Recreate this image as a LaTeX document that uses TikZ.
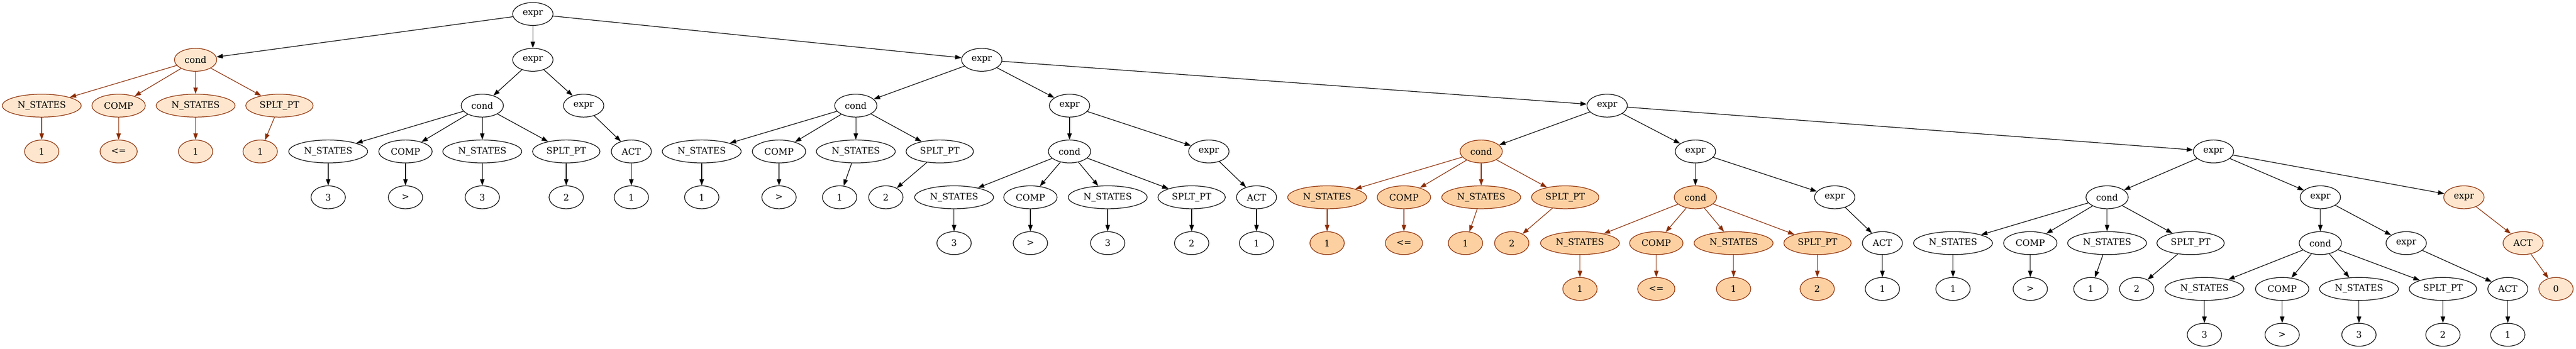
\documentclass[tikz,border=0pt]{standalone}
\usepackage{fontspec}
\setmainfont{DejaVu Serif}
\usetikzlibrary{shapes.geometric,arrows.meta}
\definecolor{oLight}{HTML}{FEE6CE}
\definecolor{oDark}{HTML}{FDD0A2}
\definecolor{oBord}{HTML}{8C2D04}
\tikzset{
  nd/.style={ellipse, draw=black, line width=1pt, minimum height=36pt, inner sep=0pt,
             font=\fontsize{14}{16}\selectfont},
  wexpr/.style={nd, minimum width=63.5pt},
  wcond/.style={nd, minimum width=66.5pt},
  wact/.style={nd, minimum width=63pt},
  wcomp/.style={nd, minimum width=84pt},
  wsplt/.style={nd, minimum width=106pt},
  wnst/.style={nd, minimum width=124pt},
  wleaf/.style={nd, minimum width=54pt},
  wle/.style={nd, minimum width=58.5pt},
  lightO/.style={fill=oLight, draw=oBord},
  darkO/.style={fill=oDark, draw=oBord},
  ed/.style={-{Triangle[length=10pt,width=7pt]}, line width=1pt, color=black},
  eo/.style={-{Triangle[length=10pt,width=7pt]}, line width=1pt, color=oBord}
}
\begin{document}
\begin{tikzpicture}[x=1pt,y=1pt]
\useasboundingbox (0,0) rectangle (4050,-548.25);
% rank 0
\node[wexpr] (R) at (837.75,-22) {expr};
% ---- rank 1
\node[wcond,lightO] (C1) at (307.5,-94) {cond};
\node[wexpr] (E1) at (837.75,-94) {expr};
\node[wexpr] (E2) at (1543.5,-94) {expr};
% ---- C1 group (light orange)
\node[wnst,lightO]  (C1a) at (65.6,-166) {N\_STATES};
\node[wcomp,lightO] (C1b) at (186.5,-166) {COMP};
\node[wnst,lightO]  (C1c) at (307.5,-166) {N\_STATES};
\node[wsplt,lightO] (C1d) at (439.3,-166) {SPLT\_PT};
\node[wleaf,lightO] (C1aL) at (65.6,-238) {1};
\node[wle,lightO]   (C1bL) at (186.5,-238) {<=};
\node[wleaf,lightO] (C1cL) at (307.5,-238) {1};
\node[wleaf,lightO] (C1dL) at (409.1,-238) {1};
% ---- E1 group
\node[wcond] (C2) at (758.25,-166) {cond};
\node[wexpr] (E1b) at (917.6,-166) {expr};
\node[wnst]  (C2a) at (516,-238) {N\_STATES};
\node[wcomp] (C2b) at (637.5,-238) {COMP};
\node[wnst]  (C2c) at (758.25,-238) {N\_STATES};
\node[wsplt] (C2d) at (890.25,-238) {SPLT\_PT};
\node[wact]  (E1bA) at (992.6,-238) {ACT};
\node[wleaf] (C2aL) at (516,-310) {3};
\node[wleaf] (C2bL) at (637.5,-310) {>};
\node[wleaf] (C2cL) at (758.25,-310) {3};
\node[wleaf] (C2dL) at (890.25,-310) {2};
\node[wleaf] (E1bL) at (992.6,-310) {1};
% ---- E2 group
\node[wcond] (C3) at (1345.5,-166) {cond};
\node[wexpr] (E3) at (1681.5,-166) {expr};
\node[wexpr] (E4) at (2526.75,-166) {expr};
\node[wnst]  (C3a) at (1103.25,-238) {N\_STATES};
\node[wcomp] (C3b) at (1224.75,-238) {COMP};
\node[wnst]  (C3c) at (1345.5,-238) {N\_STATES};
\node[wsplt] (C3d) at (1477.5,-238) {SPLT\_PT};
\node[wleaf] (C3aL) at (1103.25,-310) {1};
\node[wleaf] (C3bL) at (1224.75,-310) {>};
\node[wleaf] (C3cL) at (1320,-310) {1};
\node[wleaf] (C3dL) at (1392.75,-310) {2};
% ---- E3 group
\node[wcond] (C4) at (1681.5,-238) {cond};
\node[wexpr] (E3b) at (1900.5,-238) {expr};
\node[wnst]  (C4a) at (1500,-310) {N\_STATES};
\node[wcomp] (C4b) at (1620,-310) {COMP};
\node[wnst]  (C4c) at (1741.5,-310) {N\_STATES};
\node[wsplt] (C4d) at (1873.5,-310) {SPLT\_PT};
\node[wact]  (E3bA) at (1975.5,-310) {ACT};
\node[wleaf] (C4aL) at (1500,-382) {3};
\node[wleaf] (C4bL) at (1620,-382) {>};
\node[wleaf] (C4cL) at (1741.5,-382) {3};
\node[wleaf] (C4dL) at (1873.5,-382) {2};
\node[wleaf] (E3bL) at (1975.5,-382) {1};
% ---- E4 group
\node[wcond,darkO] (C5) at (2328.75,-238) {cond};
\node[wexpr] (E5) at (2665.5,-238) {expr};
\node[wexpr] (E6) at (3480,-238) {expr};
\node[wnst,darkO]  (C5a) at (2086.5,-310) {N\_STATES};
\node[wcomp,darkO] (C5b) at (2207.25,-310) {COMP};
\node[wnst,darkO]  (C5c) at (2328.75,-310) {N\_STATES};
\node[wsplt,darkO] (C5d) at (2460.75,-310) {SPLT\_PT};
\node[wleaf,darkO] (C5aL) at (2086.5,-382) {1};
\node[wle,darkO]   (C5bL) at (2207.25,-382) {<=};
\node[wleaf,darkO] (C5cL) at (2304,-382) {1};
\node[wleaf,darkO] (C5dL) at (2376.75,-382) {2};
% ---- E5 group
\node[wcond,darkO] (C6) at (2665.5,-310) {cond};
\node[wexpr] (E5b) at (2884.5,-310) {expr};
\node[wnst,darkO]  (C6a) at (2484,-382) {N\_STATES};
\node[wcomp,darkO] (C6b) at (2604,-382) {COMP};
\node[wnst,darkO]  (C6c) at (2725.5,-382) {N\_STATES};
\node[wsplt,darkO] (C6d) at (2857.5,-382) {SPLT\_PT};
\node[wact]  (E5bA) at (2959.5,-382) {ACT};
\node[wleaf,darkO] (C6aL) at (2484,-454) {1};
\node[wle,darkO]   (C6bL) at (2604,-454) {<=};
\node[wleaf,darkO] (C6cL) at (2725.5,-454) {1};
\node[wleaf,darkO] (C6dL) at (2857,-454) {2};
\node[wleaf] (E5bL) at (2959.5,-454) {1};
% ---- E6 group
\node[wcond] (C7) at (3312.75,-310) {cond};
\node[wexpr] (E7) at (3648,-310) {expr};
\node[wexpr,lightO] (E6c) at (3873.75,-310) {expr};
\node[wnst]  (C7a) at (3070.5,-382) {N\_STATES};
\node[wcomp] (C7b) at (3192,-382) {COMP};
\node[wnst]  (C7c) at (3312.75,-382) {N\_STATES};
\node[wsplt] (C7d) at (3444,-382) {SPLT\_PT};
\node[wleaf] (C7aL) at (3070.5,-454) {1};
\node[wleaf] (C7bL) at (3192,-454) {>};
\node[wleaf] (C7cL) at (3287.25,-454) {1};
\node[wleaf] (C7dL) at (3359.25,-454) {2};
% ---- E7 group
\node[wcond] (C8) at (3648,-382) {cond};
\node[wexpr] (E7b) at (3783,-382) {expr};
\node[wact,lightO] (E6cA) at (3966.75,-382) {ACT};
\node[wnst]  (C8a) at (3465.75,-454) {N\_STATES};
\node[wcomp] (C8b) at (3588,-454) {COMP};
\node[wnst]  (C8c) at (3708.75,-454) {N\_STATES};
\node[wsplt] (C8d) at (3840.75,-454) {SPLT\_PT};
\node[wact]  (E7bA) at (3942.75,-454) {ACT};
\node[wleaf,lightO] (E6cL) at (4018.5,-454) {0};
\node[wleaf] (C8aL) at (3465.75,-526) {3};
\node[wleaf] (C8bL) at (3588,-526) {>};
\node[wleaf] (C8cL) at (3708.75,-526) {3};
\node[wleaf] (C8dL) at (3840.75,-526) {2};
\node[wleaf] (E7bL) at (3942.75,-526) {1};
% ---------------- edges
\draw[ed] (R) -- (C1);
\draw[ed] (R) -- (E1);
\draw[ed] (R) -- (E2);
\foreach \c in {C1a,C1b,C1c,C1d} {\draw[eo] (C1) -- (\c); \draw[eo] (\c) -- (\c L);}
\draw[ed] (E1) -- (C2);
\draw[ed] (E1) -- (E1b);
\foreach \c in {C2a,C2b,C2c,C2d} {\draw[ed] (C2) -- (\c); \draw[ed] (\c) -- (\c L);}
\draw[ed] (E1b) -- (E1bA);
\draw[ed] (E1bA) -- (E1bL);
\draw[ed] (E2) -- (C3);
\draw[ed] (E2) -- (E3);
\draw[ed] (E2) -- (E4);
\foreach \c in {C3a,C3b,C3c,C3d} {\draw[ed] (C3) -- (\c); \draw[ed] (\c) -- (\c L);}
\draw[ed] (E3) -- (C4);
\draw[ed] (E3) -- (E3b);
\foreach \c in {C4a,C4b,C4c,C4d} {\draw[ed] (C4) -- (\c); \draw[ed] (\c) -- (\c L);}
\draw[ed] (E3b) -- (E3bA);
\draw[ed] (E3bA) -- (E3bL);
\draw[ed] (E4) -- (C5);
\draw[ed] (E4) -- (E5);
\draw[ed] (E4) -- (E6);
\foreach \c in {C5a,C5b,C5c,C5d} {\draw[eo] (C5) -- (\c); \draw[eo] (\c) -- (\c L);}
\draw[ed] (E5) -- (C6);
\draw[ed] (E5) -- (E5b);
\foreach \c in {C6a,C6b,C6c,C6d} {\draw[eo] (C6) -- (\c); \draw[eo] (\c) -- (\c L);}
\draw[ed] (E5b) -- (E5bA);
\draw[ed] (E5bA) -- (E5bL);
\draw[ed] (E6) -- (C7);
\draw[ed] (E6) -- (E7);
\draw[ed] (E6) -- (E6c);
\foreach \c in {C7a,C7b,C7c,C7d} {\draw[ed] (C7) -- (\c); \draw[ed] (\c) -- (\c L);}
\draw[ed] (E7) -- (C8);
\draw[ed] (E7) -- (E7b);
\foreach \c in {C8a,C8b,C8c,C8d} {\draw[ed] (C8) -- (\c); \draw[ed] (\c) -- (\c L);}
\draw[ed] (E7b) -- (E7bA);
\draw[ed] (E7bA) -- (E7bL);
\draw[eo] (E6c) -- (E6cA);
\draw[eo] (E6cA) -- (E6cL);
\end{tikzpicture}
\end{document}
